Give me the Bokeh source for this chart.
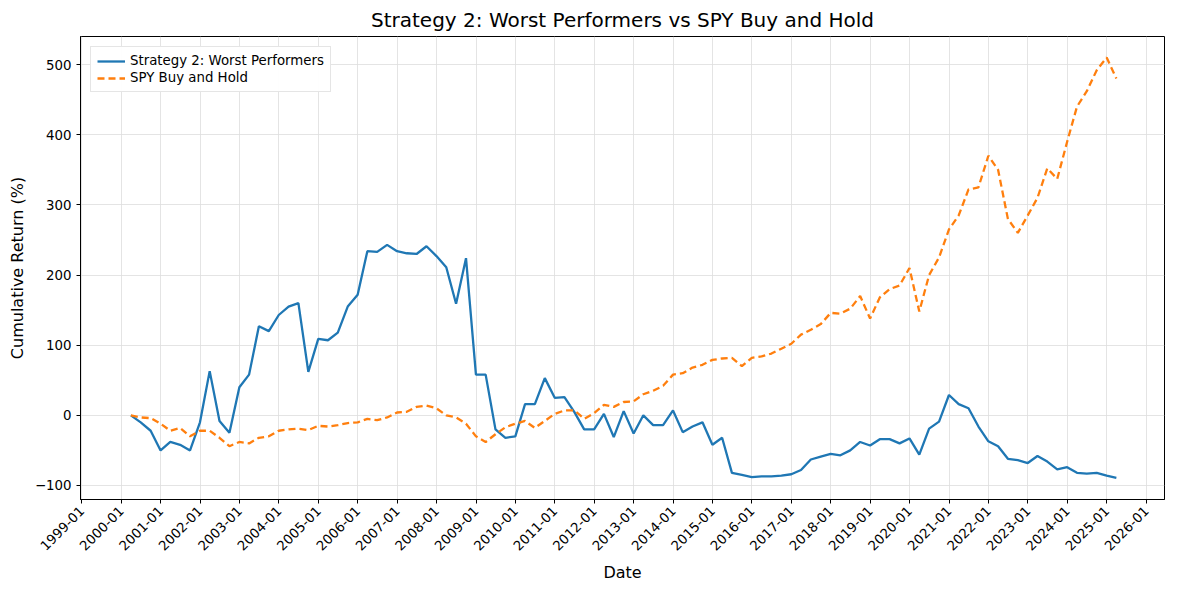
from bokeh.plotting import figure
from bokeh.embed import file_html
from bokeh.resources import INLINE
from bokeh.models import DatetimeTickFormatter, Range1d, Legend, LegendItem
import pandas as pd
import math

dates = pd.date_range("2000-03-31", periods=101, freq="QE")

strategy = [0, -10, -22, -50, -38, -42, -50, -10, 63, -8, -25, 40,
            58, 127, 120, 143, 155, 160, 62, 109, 107, 118, 155, 172,
            234, 233, 243, 234, 231, 230, 241, 227, 211, 159, 224, 58,
            58, -20, -32, -30, 16, 16, 53, 25, 26, 5, -20, -20,
            2, -31, 6, -26, 0, -14, -14, 7, -24, -16, -10, -42,
            -32, -82, -85, -88, -87, -87, -86, -84, -78, -63, -59, -55,
            -57, -50, -38, -43, -34, -34, -40, -33, -56, -19, -9, 29,
            16, 10, -16, -37, -44, -62, -64, -68, -58, -66, -77, -74,
            -82, -83, -82, -86, -89]

spy = [0, -3, -4, -12, -22, -18, -30, -22, -22, -32, -44, -38,
       -40, -32, -30, -22, -20, -19, -21, -15, -16, -14, -11, -10,
       -5, -7, -3, 4, 5, 12, 14, 10, 0, -3, -12, -30,
       -38, -27, -17, -12, -8, -18, -8, 2, 7, 7, -5, 3,
       15, 12, 19, 20, 30, 35, 42, 58, 60, 68, 72, 79,
       81, 82, 70, 82, 84, 88, 95, 102, 115, 122, 130, 146,
       145, 152, 170, 138, 168, 180, 185, 210, 148, 200, 225, 265,
       285, 322, 325, 370, 350, 280, 260, 285, 310, 352, 337, 390,
       440, 462, 492, 510, 480]

years = list(range(1999, 2027))

p = figure(width=1184, height=584, x_axis_type="datetime",
           output_backend="svg", toolbar_location=None,
           title="Strategy 2: Worst Performers vs SPY Buy and Hold",
           x_range=Range1d(pd.Timestamp("1998-12-20"), pd.Timestamp("2026-06-20")),
           y_range=Range1d(-120, 540))

p.title.align = "center"
p.title.text_font = "DejaVu Sans"
p.title.text_font_size = "15pt"
p.title.text_font_style = "normal"
p.title.text_color = "black"

l1 = p.line(dates, strategy, line_width=2.3, color="#1f77b4")
l2 = p.line(dates, spy, line_width=2.3, color="#ff7f0e", line_dash="7 4")

legend = Legend(items=[LegendItem(label="Strategy 2: Worst Performers", renderers=[l1]),
                       LegendItem(label="SPY Buy and Hold", renderers=[l2])],
                location="top_left", label_text_font="DejaVu Sans",
                label_text_font_size="10pt", label_text_color="black",
                border_line_color="#cccccc",
                glyph_width=28, spacing=2, padding=6, label_height=14, glyph_height=14)
p.add_layout(legend, "center")

p.xaxis.ticker = [pd.Timestamp(f"{y}-01-01").value / 1e6 for y in years]
p.xaxis.formatter = DatetimeTickFormatter(days="%Y-%m", months="%Y-%m", years="%Y-%m")
p.xaxis.major_label_orientation = math.pi / 4
p.yaxis.ticker = [-100, 0, 100, 200, 300, 400, 500]

p.xaxis.axis_label = "Date"
p.yaxis.axis_label = "Cumulative Return (%)"
for ax in [p.xaxis, p.yaxis]:
    ax.axis_label_text_font = "DejaVu Sans"
    ax.axis_label_text_font_size = "12pt"
    ax.axis_label_text_font_style = "normal"
    ax.axis_label_text_color = "black"
    ax.major_label_text_font = "DejaVu Sans"
    ax.major_label_text_font_size = "10pt"
    ax.major_label_text_color = "black"
    ax.minor_tick_line_color = None
    ax.major_tick_in = 0
    ax.major_tick_out = 4

p.grid.grid_line_color = "#dddddd"
p.grid.grid_line_alpha = 0.8
p.outline_line_color = "black"
p.min_border_right = 20
p.min_border_left = 80

open("out.html", "w").write(file_html(p, INLINE))
